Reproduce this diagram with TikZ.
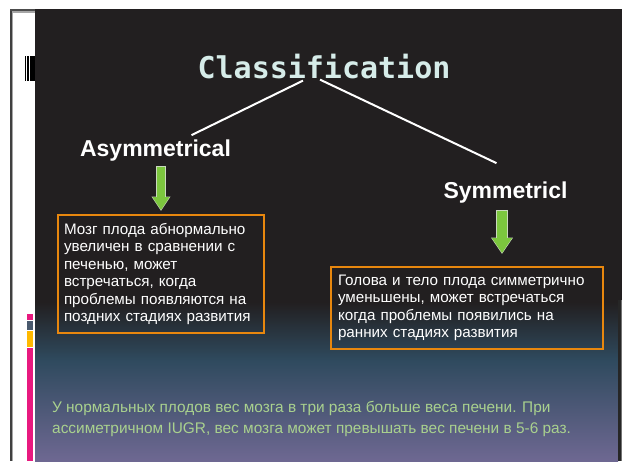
\documentclass[tikz,border=0pt]{standalone}
\usepackage{fontspec}
\setmainfont{Liberation Sans}
\newfontfamily\titlefont{DejaVu Sans Mono}
\usetikzlibrary{arrows.meta,calc}
\definecolor{slidebg}{HTML}{221F20}
\definecolor{tealbg}{HTML}{2F4A5E}
\definecolor{purplebg}{HTML}{6E6892}
\definecolor{titlecol}{HTML}{D6ECE9}
\definecolor{boxorange}{HTML}{E8870E}
\definecolor{arrowgreen}{HTML}{7CC63E}
\definecolor{arrowedge}{HTML}{C9D9BC}
\definecolor{notegreen}{HTML}{A9D18E}
\definecolor{stripepink}{HTML}{E8197F}
\definecolor{stripeslate}{HTML}{4A5A6E}
\definecolor{stripeyellow}{HTML}{FFB900}
\tikzset{
  titletext/.style={inner sep=0pt, text=titlecol, font=\titlefont\bfseries\fontsize{30}{30}\selectfont},
  headtext/.style={inner sep=0pt, text=white, font=\bfseries\fontsize{23}{23}\selectfont},
  infobox/.style={draw=boxorange, line width=2pt, text=white, align=left, inner xsep=6pt, inner ysep=0pt,
                  font=\fontsize{15.2}{17.4}\selectfont},
  connector/.style={draw=white, line width=2pt},
  arrowouter/.style={draw=arrowedge, line width=9.6pt},
  arrowinner/.style={draw=arrowgreen, line width=8pt},
  notetext/.style={inner sep=0pt, text=notegreen, align=left, font=\fontsize{15.4}{21}\selectfont}
}
\begin{document}
\begin{tikzpicture}[x=1pt,y=-1pt]
\useasboundingbox (0,0) rectangle (623,461);
\fill[white] (0,0) rectangle (623,461);
% slide background
\fill[slidebg] (35,9) rectangle (622,461);
\shade[top color=slidebg, bottom color=tealbg] (35,302) rectangle (618,360);
\shade[top color=tealbg, bottom color=purplebg] (35,360) rectangle (618,461);
\fill[black!85] (618,300) rectangle (621,461);
\fill[black!55] (621,300) rectangle (622,461);
% left frame
\fill[black!75] (10,9) rectangle (12,461);
\fill[black!35] (12,12) rectangle (13,461);
\fill[black!70] (10,9) rectangle (35,11);
\fill[black!35] (12,11) rectangle (35,12.5);
% left marks
\fill[black] (25,56) rectangle (35,81);
\fill[white] (26,56) rectangle (26.9,81);
\fill[white] (29,56) rectangle (29.9,81);
\fill[stripepink] (27,314) rectangle (33,319.5);
\fill[stripeslate] (27,321) rectangle (33,330);
\fill[stripeyellow] (27,331) rectangle (33,347);
\fill[stripepink] (27,348) rectangle (33,461);
% nodes
\node[titletext, anchor=base] (title) at (324,78) {Classification};
\node[headtext, anchor=base] (asym) at (155.5,156) {Asymmetrical};
\node[headtext, anchor=base] (symm) at (505.5,198) {Symmetricl};
\node[infobox, minimum width=206pt, minimum height=118pt, text width=194pt] (box1) at (161,274)
  {Мозг плода абнормально\\увеличен в сравнении с\\печенью, может\\встречаться, когда\\проблемы появляются на\\поздних стадиях развития};
\node[infobox, inner xsep=7pt, minimum width=272pt, minimum height=82pt, text width=258pt] (box2) at (467,308)
  {Голова и тело плода симметрично\\уменьшены, может встречаться\\когда проблемы появились на\\ранних стадиях развития};
\node[notetext, anchor=base west] (note) at (52,433)
  {У нормальных плодов вес мозга в три раза больше веса печени. При\\ассиметричном IUGR, вес мозга может превышать вес печени в 5-6 раз.};
% connectors
\draw[connector] ($(title.south)+(-21,2)$) -- ($(asym.north)+(36,-4)$);
\draw[connector] ($(title.south)+(-4,1)$) -- ($(symm.north)+(-9,-18)$);
% green arrows
\draw[arrowouter, -{Triangle[width=18pt,length=14.5pt]}, shorten <=5pt, shorten >=3pt]
  (asym.south -| box1.north) -- (box1.north);
\draw[arrowinner, arrowgreen, -{Triangle[width=16pt,length=13pt]}, shorten <=6pt, shorten >=4pt]
  (asym.south -| box1.north) -- (box1.north);
\coordinate (rtop) at ($(symm.south)+(-3.5,0)$);
\draw[arrowouter, line width=11.6pt, -{Triangle[width=21pt,length=16.5pt]}, shorten <=7pt, shorten >=12pt]
  (rtop) -- (rtop |- box2.north);
\draw[arrowinner, line width=10pt, -{Triangle[width=19pt,length=15pt]}, shorten <=8pt, shorten >=13pt]
  (rtop) -- (rtop |- box2.north);
\end{tikzpicture}
\end{document}
